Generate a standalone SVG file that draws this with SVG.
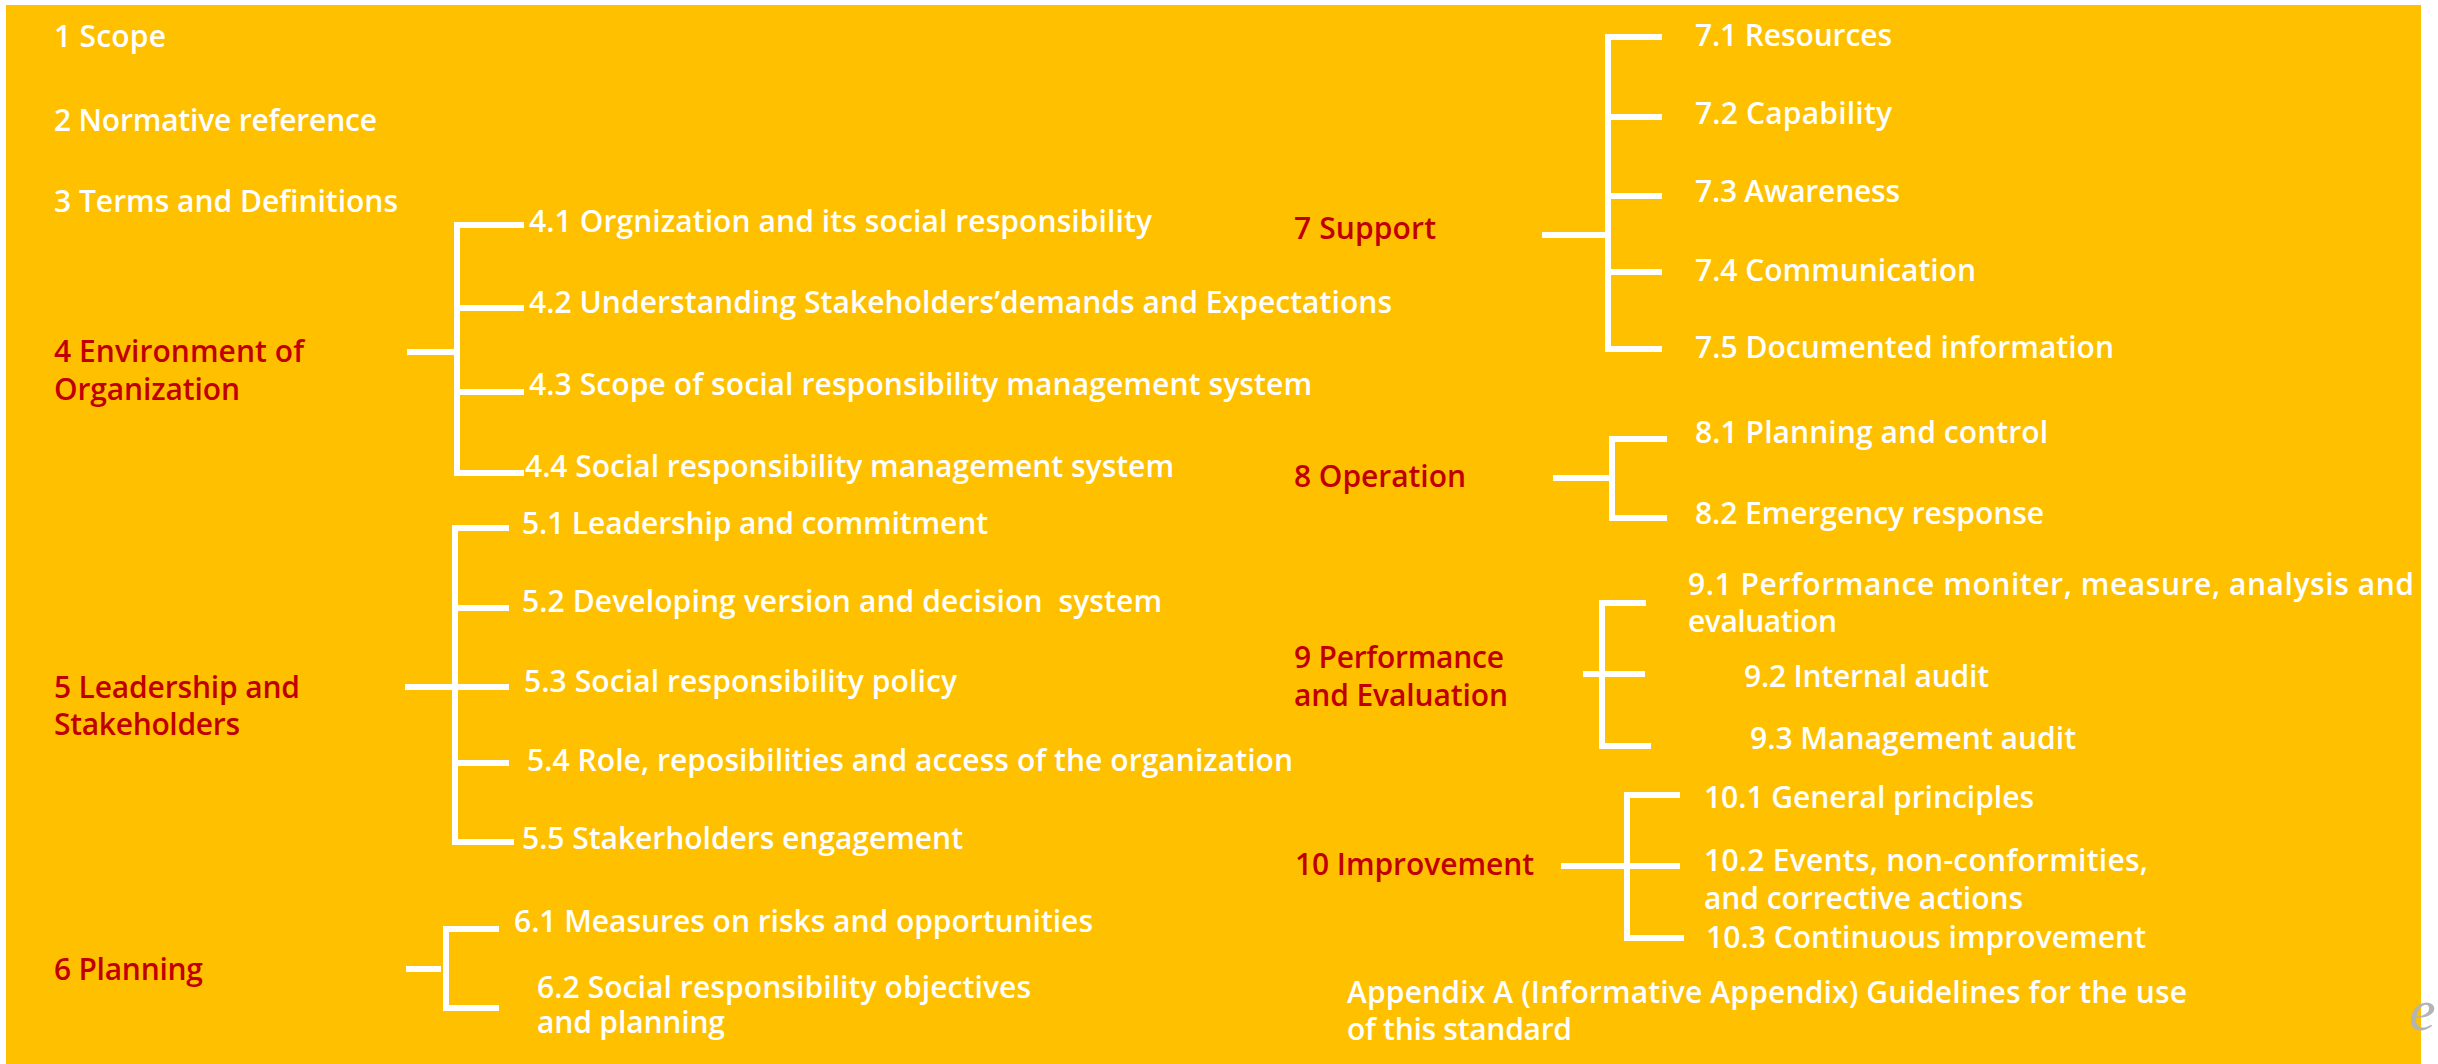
<svg xmlns="http://www.w3.org/2000/svg" width="2438" height="1064" viewBox="0 0 2438 1064">
<style>
.t{font-family:"Open Sans","Noto Sans","Liberation Sans",sans-serif;font-size:30px;font-weight:600;fill:#FFFFFF}
.h{font-family:"Open Sans","Noto Sans","Liberation Sans",sans-serif;font-size:30px;font-weight:600;fill:#C00000}
.c{fill:none;stroke:#FFFFFF;stroke-width:6;stroke-linecap:butt;stroke-linejoin:miter}
</style>
<rect x="0" y="0" width="2438" height="1064" fill="#FFFFFF"/>
<rect x="6" y="5" width="2415" height="1059" fill="#FFC000"/>
<g id="connectors" class="c">
<path d="M407 352H457M457 222V476M457 225H524M457 308H524M457 392H524M457 473H524"/>
<path d="M405 687H455M455 525V845M455 528H509M455 608H509M455 687H509M455 763H509M455 842H514"/>
<path d="M406 969H441M446 926V1011M446 929H499M446 1008H499"/>
<path d="M1542 235H1608M1608 34V352M1608 37H1662M1608 117H1662M1608 196H1662M1608 272H1662M1608 349H1662"/>
<path d="M1553 478H1609M1612 436V521M1612 439H1667M1612 518H1667"/>
<path d="M1583 674H1645M1602 600V749M1602 603H1646M1602 746H1651"/>
<path d="M1561 866H1680M1627 792V941M1627 795H1680M1627 938H1684"/>
</g>
<g id="n1"><text class="t" x="54" y="47" textLength="112">1 Scope</text></g>
<g id="n2"><text class="t" x="54" y="131" textLength="323">2 Normative reference</text></g>
<g id="n3"><text class="t" x="54" y="212" textLength="344">3 Terms and Definitions</text></g>
<g id="n4"><text class="h" x="54" y="362" textLength="250">4 Environment of</text><text class="h" x="54" y="400" textLength="186">Organization</text></g>
<g id="n4-1"><text class="t" x="529" y="232" textLength="623">4.1 Orgnization and its social responsibility</text></g>
<g id="n4-2"><text class="t" x="529" y="313" textLength="863">4.2 Understanding Stakeholders’demands and Expectations</text></g>
<g id="n4-3"><text class="t" x="529" y="395" textLength="783">4.3 Scope of social responsibility management system</text></g>
<g id="n4-4"><text class="t" x="525" y="477" textLength="649">4.4 Social responsibility management system</text></g>
<g id="n5"><text class="h" x="54" y="698" textLength="246">5 Leadership and</text><text class="h" x="54" y="735" textLength="186">Stakeholders</text></g>
<g id="n5-1"><text class="t" x="522" y="534" textLength="466">5.1 Leadership and commitment</text></g>
<g id="n5-2"><text class="t" x="522" y="612" textLength="640" xml:space="preserve">5.2 Developing version and decision  system</text></g>
<g id="n5-3"><text class="t" x="524" y="692" textLength="433">5.3 Social responsibility policy</text></g>
<g id="n5-4"><text class="t" x="527" y="771" textLength="766">5.4 Role, reposibilities and access of the organization</text></g>
<g id="n5-5"><text class="t" x="522" y="849" textLength="441">5.5 Stakerholders engagement</text></g>
<g id="n6"><text class="h" x="54" y="980" textLength="149">6 Planning</text></g>
<g id="n6-1"><text class="t" x="514" y="932" textLength="579">6.1 Measures on risks and opportunities</text></g>
<g id="n6-2"><text class="t" x="537" y="998" textLength="494">6.2 Social responsibility objectives</text><text class="t" x="537" y="1033" textLength="188">and planning</text></g>
<g id="n7"><text class="h" x="1294" y="239" textLength="142">7 Support</text></g>
<g id="n7-1"><text class="t" x="1695" y="46" textLength="197">7.1 Resources</text></g>
<g id="n7-2"><text class="t" x="1695" y="124" textLength="197">7.2 Capability</text></g>
<g id="n7-3"><text class="t" x="1695" y="202" textLength="205">7.3 Awareness</text></g>
<g id="n7-4"><text class="t" x="1695" y="281" textLength="281">7.4 Communication</text></g>
<g id="n7-5"><text class="t" x="1695" y="358" textLength="419">7.5 Documented information</text></g>
<g id="n8"><text class="h" x="1294" y="487" textLength="172">8 Operation</text></g>
<g id="n8-1"><text class="t" x="1695" y="443" textLength="353">8.1 Planning and control</text></g>
<g id="n8-2"><text class="t" x="1695" y="524" textLength="349">8.2 Emergency response</text></g>
<g id="n9"><text class="h" x="1294" y="668" textLength="210">9 Performance</text><text class="h" x="1294" y="706" textLength="214">and Evaluation</text></g>
<g id="n9-1"><text class="t" x="1688" y="595" textLength="726">9.1 Performance moniter, measure, analysis and</text><text class="t" x="1688" y="632" textLength="149">evaluation</text></g>
<g id="n9-2"><text class="t" x="1744" y="687" textLength="245">9.2 Internal audit</text></g>
<g id="n9-3"><text class="t" x="1750" y="749" textLength="326">9.3 Management audit</text></g>
<g id="n10"><text class="h" x="1295" y="875" textLength="239">10 Improvement</text></g>
<g id="n10-1"><text class="t" x="1704" y="808" textLength="330">10.1 General principles</text></g>
<g id="n10-2"><text class="t" x="1704" y="871" textLength="444">10.2 Events, non-conformities,</text><text class="t" x="1704" y="909" textLength="319">and corrective actions</text></g>
<g id="n10-3"><text class="t" x="1706" y="948" textLength="440">10.3 Continuous improvement</text></g>
<g id="appendix"><text class="t" x="1347" y="1003" textLength="840">Appendix A (Informative Appendix) Guidelines for the use</text><text class="t" x="1347" y="1040" textLength="225">of this standard</text></g>
<text x="2409" y="1030" font-family="Liberation Serif, serif" font-style="italic" font-size="60" fill="#B4B4B4">e</text>
</svg>
